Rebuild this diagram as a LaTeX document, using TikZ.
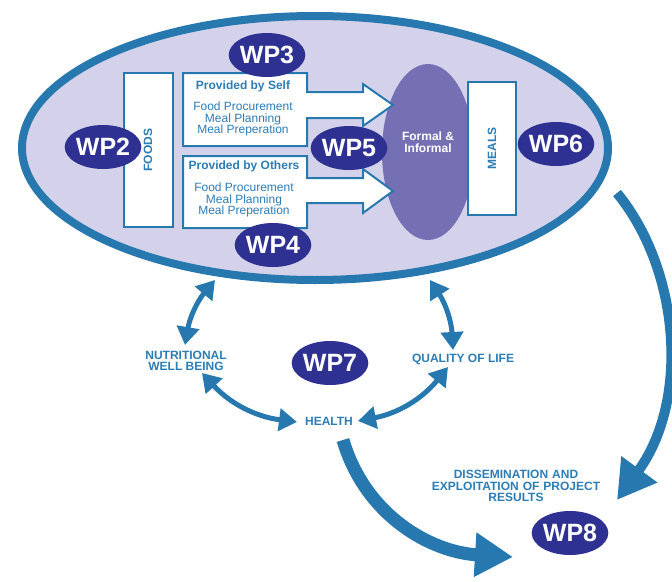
\documentclass[tikz,border=0pt]{standalone}
\usepackage{fontspec}
\setmainfont{Liberation Sans}
\usetikzlibrary{shapes.geometric,arrows.meta}
\definecolor{wpnavy}{RGB}{46,49,146}
\definecolor{lineblue}{RGB}{40,120,176}
\definecolor{lblblue}{RGB}{44,124,182}
\definecolor{lavender}{RGB}{212,210,234}
\definecolor{mealpurple}{RGB}{117,112,179}
\tikzset{
  wp/.style={ellipse,fill=wpnavy,text=white,minimum width=64pt,minimum height=44pt,inner sep=0pt,font=\fontsize{25}{25}\selectfont\bfseries},
  lbl/.style={text=lblblue,font=\fontsize{12}{11.5}\selectfont\bfseries,align=center,inner sep=1pt},
  sublbl/.style={text=lblblue,font=\fontsize{12}{11.5}\selectfont,align=center,inner sep=1pt},
  twoway/.style={draw=lineblue,line width=5pt,{Triangle[length=18pt,width=22pt]}-{Triangle[length=18pt,width=22pt]}},
  bigarrow/.style={draw=lineblue,-{Triangle[length=38pt,width=42pt]}},
  whitebox/.style={draw=lineblue,fill=white,line width=2pt}
}
\begin{document}
\begin{tikzpicture}[x=1pt,y=-1pt]
  \useasboundingbox (0,0) rectangle (672,581);
  \draw[lineblue,fill=lavender,line width=8pt] (315,148) ellipse (293 and 132);
  \fill[mealpurple] (428,152) ellipse (46 and 88);
  \node[text=white,font=\fontsize{12}{11.5}\selectfont\bfseries,align=center] (formal) at (428,142) {Formal \&\\Informal};
  \draw[whitebox] (124,73) rectangle (173,227);
  \node[lbl,rotate=90] (foods) at (148,150) {FOODS};
  \draw[whitebox] (183,73) -- (307,73) -- (307,92) -- (363,92) -- (363,84) -- (393,105) -- (363,126) -- (363,118) -- (307,118) -- (307,146) -- (183,146) -- cycle;
  \draw[whitebox] (183,156) -- (307,156) -- (307,178) -- (363,178) -- (363,169) -- (393,191) -- (363,213) -- (363,203) -- (307,203) -- (307,228) -- (183,228) -- cycle;
  \node[lbl] (self) at (243,86) {Provided by Self};
  \node[sublbl] (selftasks) at (243,119) {Food Procurement\\Meal Planning\\Meal Preperation};
  \node[lbl] (others) at (244,166) {Provided by Others};
  \node[sublbl] (otherstasks) at (244,200) {Food Procurement\\Meal Planning\\Meal Preperation};
  \draw[whitebox] (468,82) rectangle (516,215);
  \node[lbl,rotate=90] (meals) at (492,148) {MEALS};
  \node[wp] (wp2) at (103,147) {WP2};
  \node[wp] (wp3) at (267,55) {WP3};
  \node[wp] (wp4) at (273,245) {WP4};
  \node[wp] (wp5) at (349,148) {WP5};
  \node[wp] (wp6) at (556,144) {WP6};
  \node[wp] (wp7) at (330,363) {WP7};
  \node[wp] (wp8) at (570,533) {WP8};
  \node[lbl] (nutrition) at (186,361) {NUTRITIONAL\\WELL BEING};
  \node[lbl] (quality) at (463,359) {QUALITY OF LIFE};
  \node[lbl] (health) at (329,421) {HEALTH};
  \node[lbl,text width=200pt] (dissem) at (516,486) {DISSEMINATION AND\\EXPLOITATION OF PROJECT\\RESULTS};
  \coordinate (nuttop) at (215,280);
  \coordinate (nutbot) at (185,345);
  \coordinate (qoltop) at (430,280);
  \coordinate (qolbot) at (453,350);
  \coordinate (nutside) at (202,373);
  \coordinate (healthleft) at (297,422);
  \coordinate (healthright) at (358,421);
  \coordinate (qolside) at (448,367);
  \coordinate (healthout) at (343,440);
  \coordinate (resultsin) at (513,557);
  \coordinate (mealsout) at (617,193);
  \coordinate (dissemin) at (617,500);
  \draw[twoway] (nuttop) to[bend right=15] (nutbot);
  \draw[twoway] (qoltop) to[bend left=15] (qolbot);
  \draw[twoway] (nutside) to[bend right=20] (healthleft);
  \draw[twoway] (healthright) to[bend right=20] (qolside);
  \draw[bigarrow,line width=13pt] (healthout) .. controls (365,515) and (430,552) .. (resultsin);
  \draw[bigarrow,line width=10pt] (mealsout) .. controls (680,270) and (690,400) .. (dissemin);
\end{tikzpicture}
\end{document}
